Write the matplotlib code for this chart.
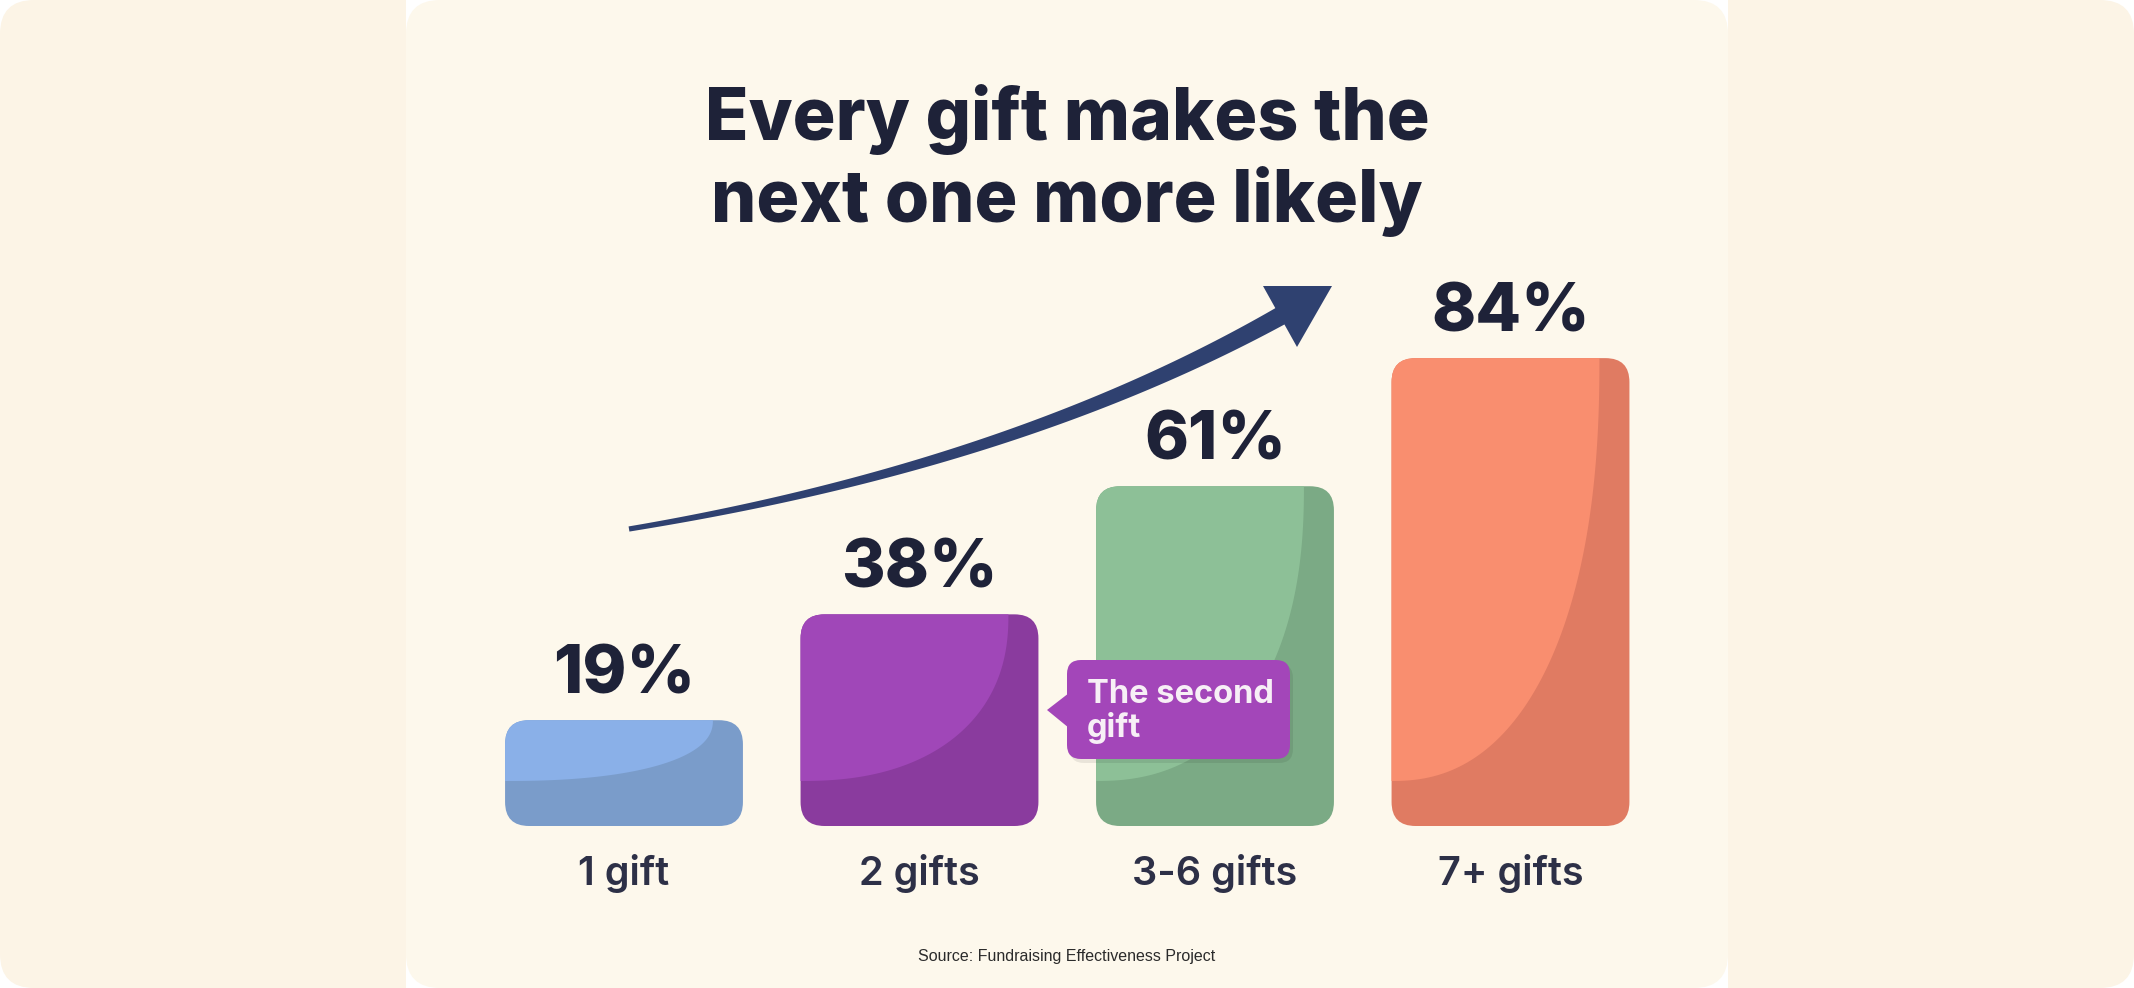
import matplotlib.pyplot as plt
import numpy as np
from matplotlib.patches import FancyBboxPatch, Polygon, Rectangle

# data
categories = ['1 gift', '2 gifts', '3-6 gifts', '7+ gifts']
retention = [19, 38, 61, 84]
light_colors = ['#8AB0E8', '#A047B8', '#8DC097', '#F98E6F']
dark_colors = ['#7A9CCA', '#8A3B9E', '#7BAA85', '#E07B62']

title_lines = ['Every gift makes the', 'next one more likely']
callout_lines = ['The second', 'gift']
source = 'Source: Fundraising Effectiveness Project'

plt.rcParams['font.family'] = ['Inter', 'DejaVu Sans']

W, H = 2134, 988
fig = plt.figure(figsize=(W / 100, H / 100), dpi=100, facecolor='white')

# background panels (pixel coords)
bg = fig.add_axes([0, 0, 1, 1], zorder=0)
bg.set_xlim(0, W)
bg.set_ylim(H, 0)
bg.axis('off')
bg.add_patch(FancyBboxPatch((0, 0), W, H, boxstyle='round,pad=0,rounding_size=34',
                            fc='#FCF4E6', ec='none'))
bg.add_patch(Rectangle((406, 0), 1322, H, fc='white', ec='none'))
bg.add_patch(FancyBboxPatch((406, 0), 1322, H, boxstyle='round,pad=0,rounding_size=34',
                            fc='#FDF8EC', ec='none'))

# bars
ax = fig.add_axes([476.25 / W, 162 / H, 1182 / W, 557 / H], zorder=1)
ax.set_xlim(-0.5, 3.5)
ax.set_ylim(0, 100)
ax.axis('off')

bw = 0.805
px_x, px_y = 295.5, 5.57
r = 24 / px_x
asp = px_x / px_y
inset = 30 / px_x
foot = 45 / px_y

for i, (v, lc, dc) in enumerate(zip(retention, light_colors, dark_colors)):
    left = i - bw / 2
    bar = FancyBboxPatch((left, 0), bw, v, boxstyle=f'round,pad=0,rounding_size={r}',
                         mutation_aspect=asp, fc=dc, ec='none')
    ax.add_patch(bar)
    # lighter highlight, curved edge towards the lower right
    a, b = bw - inset, v - foot
    t = np.linspace(0, np.pi / 2, 80)
    n = 2.3
    cx = left + a * np.cos(t) ** (2 / n)
    cy = v - b * np.sin(t) ** (2 / n)
    pts = [(left - 0.05, v + 5), (left + a, v + 5)] + list(zip(cx, cy)) + [(left - 0.05, v - b)]
    hl = Polygon(pts, closed=True, fc=lc, ec='none')
    ax.add_patch(hl)
    hl.set_clip_path(bar)

    ax.text(i, v + 4.8, f'{v}%', ha='center', va='baseline', fontsize=48,
            fontweight='heavy', color='#1E2238')
    ax.text(i, -10.6, categories[i], ha='center', va='baseline', fontsize=28.5,
            fontweight='semibold', color='#2D3047')

# arrow + callout on top
fg = fig.add_axes([0, 0, 1, 1], zorder=2)
fg.set_xlim(0, W)
fg.set_ylim(H, 0)
fg.axis('off')

p0, p1, p2 = np.array([629, 529]), np.array([1016, 465]), np.array([1284, 314])
t = np.linspace(0, 1, 120)[:, None]
curve = (1 - t) ** 2 * p0 + 2 * (1 - t) * t * p1 + t ** 2 * p2
d = np.gradient(curve, axis=0)
nrm = np.stack([-d[:, 1], d[:, 0]], axis=1)
nrm /= np.linalg.norm(nrm, axis=1)[:, None]
half = (2.6 + 6.8 * t[:, 0] ** 1.2)[:, None]
outline = np.vstack([curve + nrm * half, (curve - nrm * half)[::-1]])
fg.add_patch(Polygon(outline, closed=True, fc='#2F4170', ec='none'))
fg.add_patch(Polygon([(1332, 286), (1263, 286), (1297, 347)], closed=True,
                     fc='#2F4170', ec='none'))

fg.add_patch(FancyBboxPatch((1070, 664), 223, 99, boxstyle='round,pad=0,rounding_size=14',
                            fc='black', ec='none', alpha=0.08))
fg.add_patch(FancyBboxPatch((1067, 660), 223, 99, boxstyle='round,pad=0,rounding_size=14',
                            fc='#A346B9', ec='none'))
fg.add_patch(Polygon([(1069, 693), (1047, 710), (1069, 728)], closed=True,
                     fc='#A346B9', ec='none'))
for k, line in enumerate(callout_lines):
    fg.text(1087, 703 + 34 * k, line, ha='left', va='baseline', fontsize=23.5,
            fontweight='bold', color='#F7EFF6')

# title and source
for k, line in enumerate(title_lines):
    fig.text(0.5, 1 - (140 + 82 * k) / H, line, ha='center', va='baseline',
             fontsize=51.5, fontweight='heavy', color='#1E2238')
fig.text(0.5, 1 - 961 / H, source, ha='center', va='baseline', fontsize=11.5,
         family=['Liberation Sans', 'DejaVu Sans'], color='#2B2B2B')

fig.savefig('out.png', dpi=100, facecolor='white')
